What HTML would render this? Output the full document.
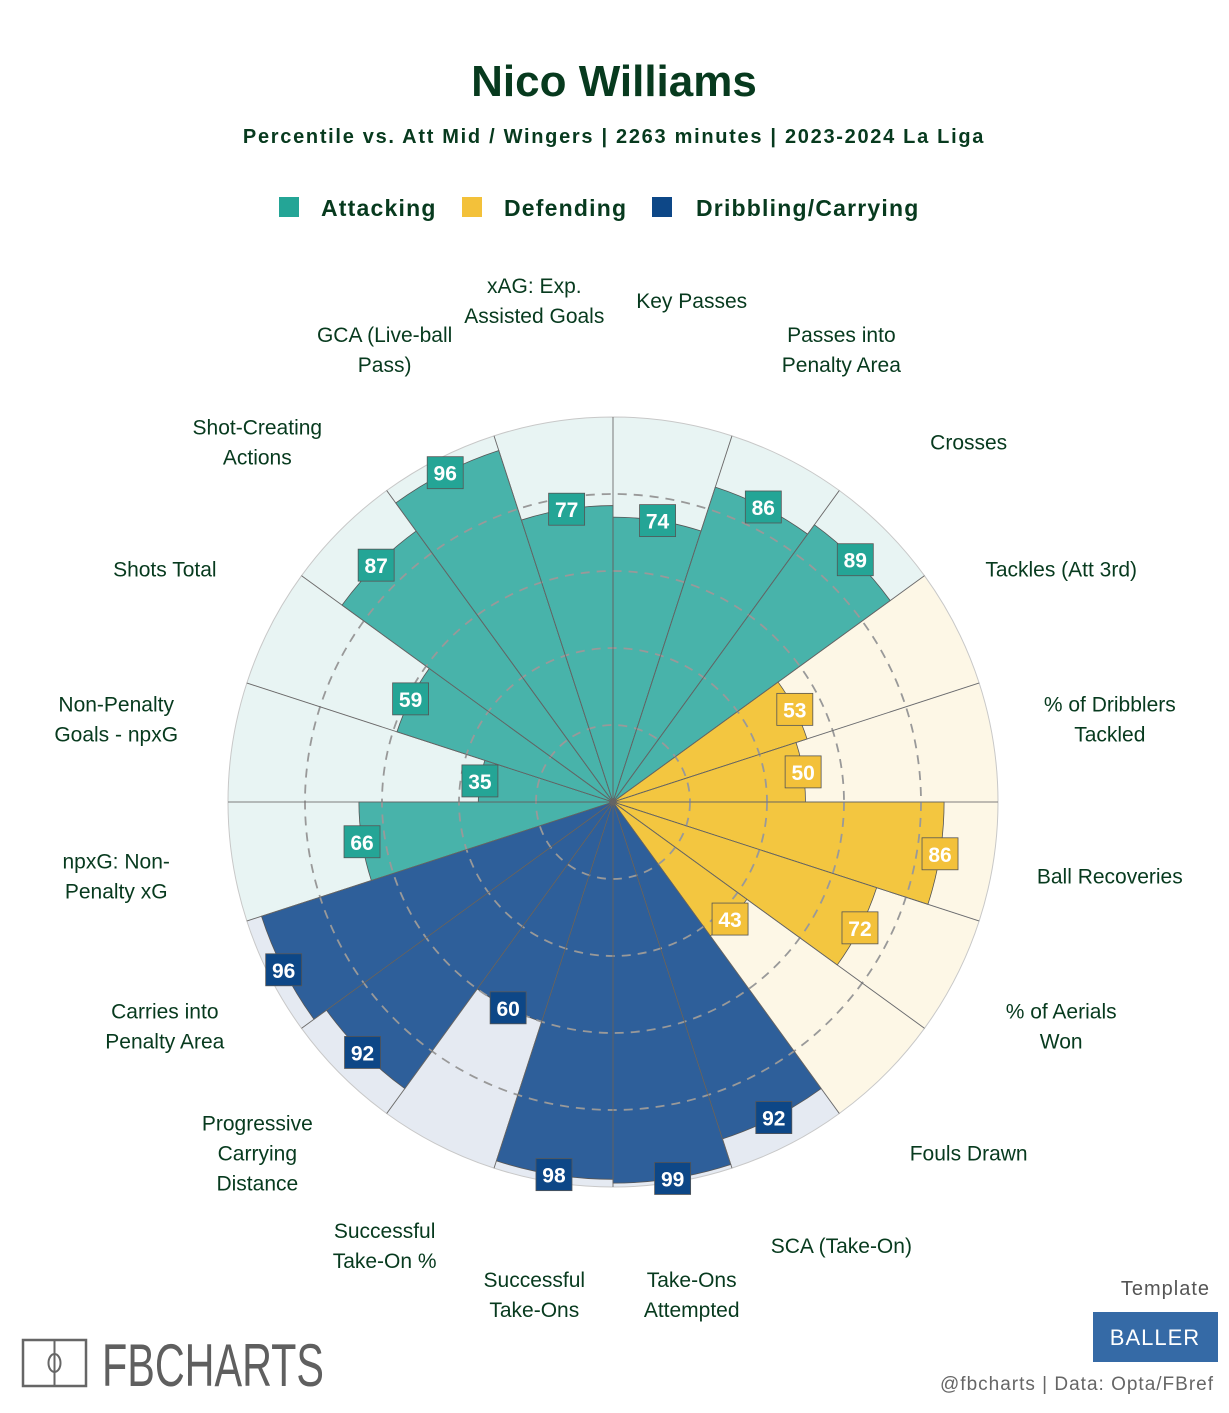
<!DOCTYPE html>
<html><head><meta charset="utf-8"><style>
body{margin:0;background:#fff;}
svg text{font-family:"Liberation Sans",sans-serif;}
</style></head><body>
<svg id="chart" width="1229" height="1408" viewBox="0 0 1229 1408" xmlns="http://www.w3.org/2000/svg">
<text x="614" y="96" text-anchor="middle" font-size="44" font-weight="bold" fill="#073a1e">Nico Williams</text>
<text x="614" y="143" text-anchor="middle" font-size="20" font-weight="bold" fill="#073a1e" letter-spacing="1.7">Percentile vs. Att Mid / Wingers | 2263 minutes | 2023-2024 La Liga</text>
<g>
<rect x="279" y="197" width="20" height="20" fill="#24a596"/>
<text x="321" y="216" font-size="23" font-weight="bold" fill="#073a1e" letter-spacing="1.2">Attacking</text>
<rect x="462" y="197" width="20" height="20" fill="#f3c13a"/>
<text x="504" y="216" font-size="23" font-weight="bold" fill="#073a1e" letter-spacing="1.2">Defending</text>
<rect x="652" y="197" width="20" height="20" fill="#0d4787"/>
<text x="696" y="216" font-size="23" font-weight="bold" fill="#073a1e" letter-spacing="1.2">Dribbling/Carrying</text>
</g>
<g id="plot"></g>
<g>
<rect x="23" y="1340" width="63" height="46" fill="none" stroke="#666" stroke-width="2.5"/>
<line x1="54.5" y1="1340" x2="54.5" y2="1386" stroke="#666" stroke-width="2"/>
<ellipse cx="54.5" cy="1363" rx="6" ry="9" fill="none" stroke="#666" stroke-width="2"/>
<text x="102" y="1386" font-size="60" fill="#5f5f5f" textLength="222" lengthAdjust="spacingAndGlyphs" font-family="Liberation Sans Narrow, Liberation Sans, sans-serif">FBCHARTS</text>
</g>
<text x="1210" y="1295" text-anchor="end" font-size="20" fill="#555" letter-spacing="1" font-family="DejaVu Sans Condensed, DejaVu Sans, sans-serif">Template</text>
<rect x="1093" y="1312" width="125" height="50" fill="#356aa6"/>
<text x="1155" y="1345" text-anchor="middle" font-size="22" fill="#fff" letter-spacing="1" font-family="DejaVu Sans Condensed, DejaVu Sans, sans-serif">BALLER</text>
<text x="1214" y="1390" text-anchor="end" font-size="19" fill="#666" letter-spacing="1" font-family="DejaVu Sans Mono, monospace">@fbcharts | Data: Opta/FBref</text>
</svg>
<script>
const categories=[["Key Passes"],["Passes into","Penalty Area"],["Crosses"],["Tackles (Att 3rd)"],["% of Dribblers","Tackled"],["Ball Recoveries"],["% of Aerials","Won"],["Fouls Drawn"],["SCA (Take-On)"],["Take-Ons","Attempted"],["Successful","Take-Ons"],["Successful","Take-On %"],["Progressive","Carrying","Distance"],["Carries into","Penalty Area"],["npxG: Non-","Penalty xG"],["Non-Penalty","Goals - npxG"],["Shots Total"],["Shot-Creating","Actions"],["GCA (Live-ball","Pass)"],["xAG: Exp.","Assisted Goals"]];
const values=[74,86,89,53,50,86,72,43,92,99,98,60,92,96,66,35,59,87,96,77];
const groups=["A","A","A","D","D","D","D","D","C","C","C","C","C","C","A","A","A","A","A","A"];
const gridTicks=[20,40,60,80];
const cx=613,cy=802,R=385,n=values.length,NS="http://www.w3.org/2000/svg";
const bg={A:"#e8f4f3",D:"#fdf7e6",C:"#e5eaf2"},fill={A:"#48b3aa",D:"#f3c640",C:"#2e5f9a"},box={A:"#24a596",D:"#f3c13a",C:"#0d4787"};
const r=v=>v/100*R;
const pt=(rad,deg)=>{const a=deg*Math.PI/180;return [cx+rad*Math.sin(a),cy-rad*Math.cos(a)];};
function wedge(rad,a0,a1){const p0=pt(rad,a0),p1=pt(rad,a1);return `M${cx},${cy}L${p0[0]},${p0[1]}A${rad},${rad} 0 0 1 ${p1[0]},${p1[1]}Z`;}
const g=document.getElementById('plot');
function mk(t,at){const e=document.createElementNS(NS,t);for(const k in at)e.setAttribute(k,at[k]);g.appendChild(e);return e;}
const step=360/n;
values.forEach((v,i)=>{const e=mk('path',{d:wedge(R,i*step,(i+1)*step),fill:bg[groups[i]],stroke:"#c8c8c8","stroke-width":1});

});
values.forEach((v,i)=>{const e=mk('path',{d:wedge(r(v),i*step,(i+1)*step),fill:fill[groups[i]],stroke:"#555","stroke-width":0.8});

});
gridTicks.forEach(t=>{const e=mk('circle',{cx:cx,cy:cy,r:r(t),fill:"none",stroke:"#999","stroke-width":1.8,"stroke-dasharray":"9 7"});

});
values.forEach((v,i)=>{const p=pt(R,i*step);const e=mk('line',{x1:cx,y1:cy,x2:p[0],y2:p[1],stroke:"#666","stroke-width":0.8});

});
values.forEach((v,i)=>{const mid=(i+0.5)*step;const p=pt(r(v),mid);
const b=mk('rect',{x:p[0]-18,y:p[1]-16,width:36,height:32,fill:box[groups[i]],stroke:"#555","stroke-width":0.8});


const t=mk('text',{x:p[0],y:p[1]+8,"text-anchor":"middle","font-size":21,"font-weight":"bold",fill:"#fff"});
t.textContent=v;


const q=pt(503,mid);const lines=categories[i];
const tt=mk('text',{x:q[0],y:q[1]-(lines.length-1)*15+3,"text-anchor":"middle","font-size":21,fill:"#073a1e"});
lines.forEach((ln,j)=>{const s=document.createElementNS(NS,'tspan');s.setAttribute('x',q[0]);s.setAttribute('dy',j?30:0);s.textContent=ln;tt.appendChild(s);});

});
</script>
</body></html>
